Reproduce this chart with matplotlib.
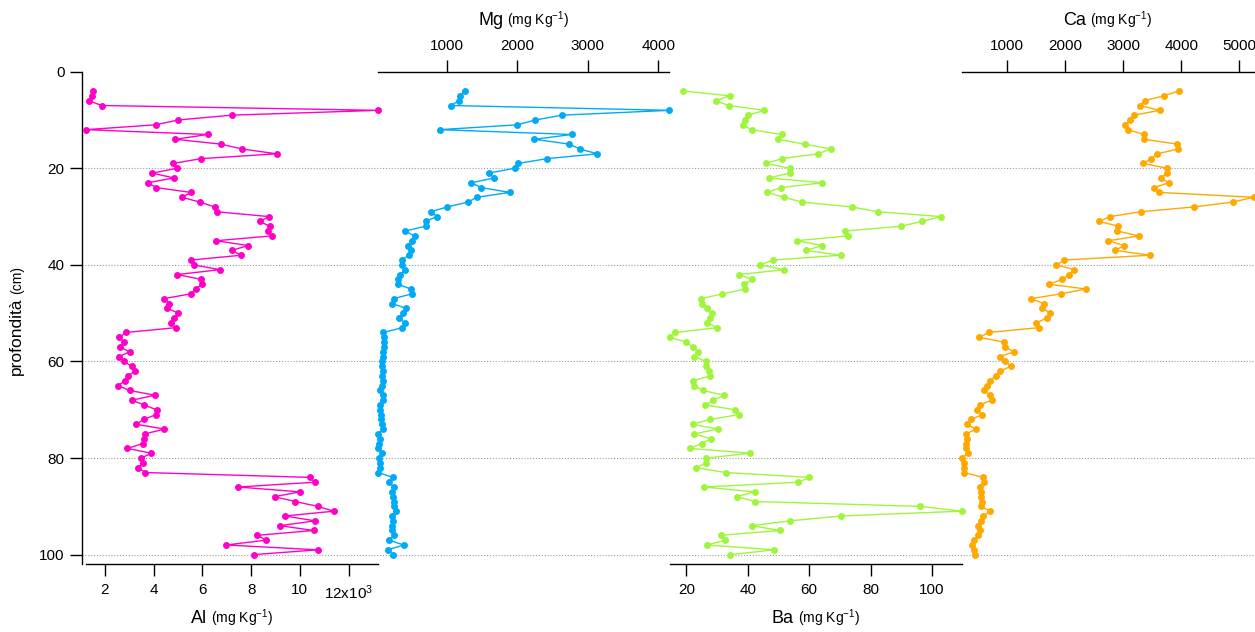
import matplotlib
matplotlib.use("Agg")
import matplotlib.pyplot as plt
from matplotlib.offsetbox import TextArea, HPacker, AnnotationBbox

plt.rcParams["font.family"] = ["Liberation Sans", "DejaVu Sans"]
plt.rcParams["mathtext.fontset"] = "custom"
plt.rcParams["mathtext.rm"] = "Liberation Sans"
plt.rcParams["mathtext.it"] = "Liberation Sans:italic"
plt.rcParams["mathtext.bf"] = "Liberation Sans:bold"
plt.rcParams["mathtext.default"] = "regular"

# ---- data: sample depth (cm) and element concentrations ----
depth_cm = list(range(4, 101))

al_k = [1.49, 1.47, 1.34, 1.86, 13.22, 7.20, 5.01, 4.08, 1.22, 6.21,
        4.89, 6.76, 7.62, 9.05, 5.95, 4.78, 4.95, 3.94, 4.83, 3.75,
        4.11, 5.53, 5.15, 5.90, 6.50, 6.58, 8.73, 8.35, 8.76, 8.68,
        8.84, 6.56, 7.88, 7.20, 7.60, 5.52, 5.65, 6.71, 4.97, 5.94,
        5.99, 5.72, 5.52, 4.41, 4.64, 4.56, 5.01, 4.82, 4.69, 4.90,
        2.86, 2.59, 2.77, 2.62, 3.01, 2.57, 2.79, 3.09, 3.24, 2.93,
        2.83, 2.53, 3.01, 4.05, 3.11, 3.59, 4.12, 4.09, 3.60, 3.27,
        4.44, 3.64, 3.60, 3.55, 2.92, 3.90, 3.49, 3.57, 3.35, 3.66,
        10.41, 10.62, 7.47, 10.00, 8.96, 9.81, 10.73, 11.40, 9.38, 10.63,
        9.18, 10.56, 8.25, 8.61, 6.98, 10.73, 8.11]

mg = [1259, 1189, 1170, 1061, 4160, 2637, 2259, 2000, 901, 2774,
      2245, 2741, 2887, 3137, 2425, 2009, 1962, 1594, 1675, 1349,
      1491, 1896, 1425, 1302, 1005, 774, 863, 698, 698, 410,
      542, 500, 453, 491, 458, 368, 358, 410, 340, 311,
      302, 491, 500, 245, 226, 420, 377, 321, 401, 368,
      100, 106, 104, 104, 94, 99, 85, 80, 94, 75,
      94, 80, 52, 94, 90, 52, 57, 66, 71, 75,
      94, 28, 52, 42, 28, 80, 33, 57, 57, 28,
      236, 184, 245, 217, 236, 245, 250, 283, 217, 231,
      226, 217, 250, 184, 387, 165, 240]

ba = [19.0, 34.2, 29.5, 33.7, 45.4, 40.2, 39.0, 38.3, 41.2, 51.0,
      49.8, 58.6, 67.0, 62.9, 51.1, 45.9, 53.7, 53.7, 46.8, 64.3,
      50.8, 46.3, 51.7, 57.7, 73.9, 82.3, 102.9, 96.8, 89.8, 71.7,
      72.5, 56.0, 64.3, 58.9, 70.3, 48.2, 44.1, 51.8, 37.1, 41.5,
      38.8, 39.2, 31.7, 24.8, 25.0, 26.6, 28.2, 27.6, 26.8, 30.0,
      16.4, 14.5, 20.0, 22.2, 23.8, 22.4, 26.4, 26.5, 27.5, 27.8,
      22.1, 22.4, 25.3, 32.3, 28.8, 26.2, 35.8, 37.2, 27.7, 22.0,
      30.3, 22.5, 27.9, 24.9, 21.2, 40.8, 26.5, 26.3, 23.2, 32.8,
      60.0, 56.5, 25.8, 42.2, 36.5, 42.2, 96.0, 109.7, 70.3, 53.8,
      41.4, 50.4, 31.3, 32.7, 26.7, 48.6, 34.3]

ca = [3958, 3695, 3373, 3287, 3631, 3190, 3127, 3041, 3081, 3368,
      3362, 3935, 3947, 3591, 3488, 3351, 3763, 3752, 3649, 3786,
      3528, 3626, 5242, 4887, 4222, 3305, 2777, 2588, 2920, 2903,
      3276, 2749, 3012, 2869, 3465, 1992, 1854, 2164, 2066, 1957,
      1722, 2364, 1929, 1413, 1636, 1613, 1751, 1688, 1510, 1550,
      690, 530, 954, 977, 1120, 885, 971, 1075, 885, 811,
      713, 667, 604, 719, 748, 536, 490, 570, 392, 312,
      473, 306, 323, 295, 306, 329, 226, 272, 272, 272,
      593, 604, 547, 564, 564, 582, 553, 719, 599, 564,
      513, 536, 507, 444, 410, 444, 450]

depth_ticks = [0, 20, 40, 60, 80, 100]
al_ticks = [2, 4, 6, 8, 10, 12]
al_ticklabels = ["2", "4", "6", "8", "10", "12x10$^{3}$"]
mg_ticks = [1000, 2000, 3000, 4000]
ba_ticks = [20, 40, 60, 80, 100]
ca_ticks = [1000, 2000, 3000, 4000, 5000]

# ---- layout (pixels) ----
W, H = 1255, 632
Y_TOP, Y_BOT = 71.7, 564.3
Y_LIM = (102, 0)

fig = plt.figure(figsize=(W / 100, H / 100), dpi=100)


def rect(x0, x1):
    return [x0 / W, 1 - Y_BOT / H, (x1 - x0) / W, (Y_BOT - Y_TOP) / H]


# depth axis with the dotted reference lines
base = fig.add_axes(rect(81.7, W))
base.patch.set_visible(False)
base.set_xlim(0, 1)
base.set_ylim(*Y_LIM)
for s in ("top", "right", "bottom"):
    base.spines[s].set_visible(False)
base.spines["left"].set_linewidth(1.0)
base.set_xticks([])
base.set_yticks(depth_ticks)
base.tick_params(axis="y", direction="out", length=8.4, width=1.0,
                 pad=4, labelsize=11)
for d in depth_ticks[1:]:
    base.axhline(d, color="#9c9c9c", lw=0.8, ls=(0, (1, 1.6)), zorder=0)

panels = [
    ("Al", al_k, "#FF00C8", 86.0, 378.3, "bottom", al_ticks, al_ticklabels),
    ("Mg", mg, "#00AAF5", 378.3, 669.4, "top", mg_ticks, None),
    ("Ba", ba, "#9FF53C", 669.6, 961.7, "bottom", ba_ticks, None),
    ("Ca", ca, "#FFA800", 961.7, 1253.5, "top", ca_ticks, None),
]

for name, vals, color, x0, x1, side, ticks, labels in panels:
    ax = fig.add_axes(rect(x0, x1), facecolor="none")
    ax.plot(vals, depth_cm, color=color, lw=1.0, marker="o", ms=5.0,
            mew=0, clip_on=False)
    ax.set_xlim(min(vals), max(vals))
    ax.set_ylim(*Y_LIM)
    ax.set_yticks([])
    for s in ("top", "bottom", "left", "right"):
        ax.spines[s].set_visible(s == side)
    ax.spines[side].set_linewidth(1.0)
    ax.xaxis.set_ticks_position(side)
    ax.set_xticks(ticks)
    if labels is not None:
        ax.set_xticklabels(labels)
    ax.tick_params(axis="x", direction="out", length=8.4, width=1.0,
                   pad=5, labelsize=11)

    title = HPacker(children=[
        TextArea(name, textprops=dict(size=13)),
        TextArea("(mg Kg$^{-1}$)", textprops=dict(size=10)),
    ], align="baseline", pad=0, sep=3)
    y_center = 612 if side == "top" else 14
    ab = AnnotationBbox(title, ((x0 + x1) / 2, y_center),
                        xycoords="figure pixels", frameon=False,
                        box_alignment=(0.5, 0.5))
    fig.add_artist(ab)

# vertical axis title with a smaller unit part
t1 = fig.text(21 / W, (H - 375) / H, "profondità", rotation=90,
              rotation_mode="anchor", ha="left", va="baseline", size=12.5)
fig.canvas.draw()
bb = t1.get_window_extent()
fig.text(21 / W, (bb.y1 + 4) / H, "(cm)", rotation=90,
         rotation_mode="anchor", ha="left", va="baseline", size=10)

fig.savefig("out.png", dpi=100)
